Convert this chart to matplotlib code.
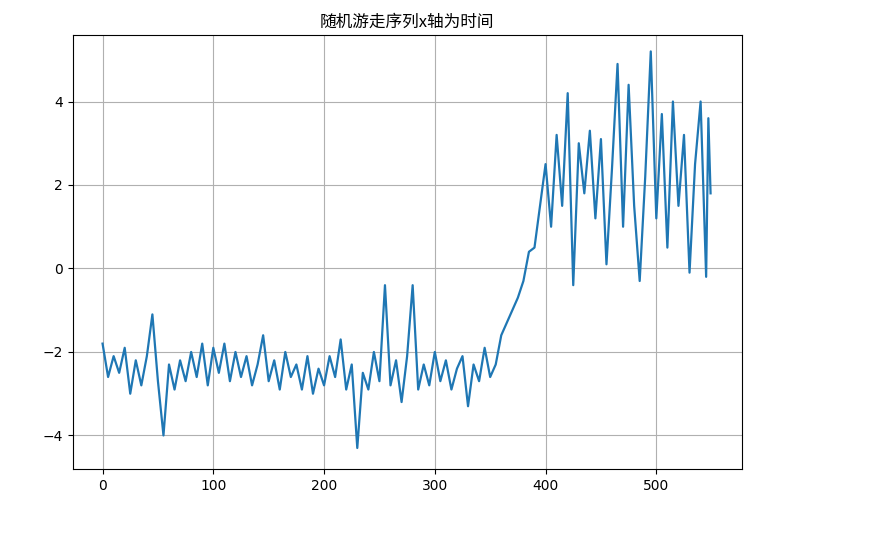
import matplotlib
matplotlib.use("Agg")
import matplotlib.pyplot as plt
import numpy as np

x_low = list(range(0, 360, 5))
y_low = [-1.8, -2.6, -2.1, -2.5, -1.9, -3.0, -2.2, -2.8, -2.1, -1.1,
         -2.7, -4.0, -2.3, -2.9, -2.2, -2.7, -2.0, -2.6, -1.8, -2.8,
         -1.9, -2.5, -1.8, -2.7, -2.0, -2.6, -2.1, -2.8, -2.3, -1.6,
         -2.7, -2.2, -2.9, -2.0, -2.6, -2.3, -2.9, -2.1, -3.0, -2.4,
         -2.8, -2.1, -2.6, -1.7, -2.9, -2.3, -4.3, -2.5, -2.9, -2.0,
         -2.7, -0.4, -2.8, -2.2, -3.2, -2.1, -0.4, -2.9, -2.3, -2.8,
         -2.0, -2.7, -2.2, -2.9, -2.4, -2.1, -3.3, -2.3, -2.7, -1.9,
         -2.6, -2.3]
x_high = list(range(360, 550, 5)) + [547, 549]
y_high = [-1.6, -1.3, -1.0, -0.7, -0.3, 0.4, 0.5, 1.5,
          2.5, 1.0, 3.2, 1.5, 4.2, -0.4, 3.0, 1.8, 3.3, 1.2, 3.1, 0.1,
          2.4, 4.9, 1.0, 4.4, 1.5, -0.3, 2.2, 5.2, 1.2, 3.7, 0.5, 4.0,
          1.5, 3.2, -0.1, 2.5, 4.0, -0.2, 3.6, 1.8]

xs = np.array(x_low + x_high)
ys = np.array(y_low + y_high)

fig = plt.figure(figsize=(8.86, 5.34), dpi=100)
ax = fig.add_axes([0.082, 0.122, 0.755, 0.813])
ax.plot(xs, ys, color="#1f77b4", linewidth=1.6)
ax.set_xlim(-27, 577)
ax.set_ylim(-4.8, 5.6)
ax.set_yticks([-4, -2, 0, 2, 4])
ax.grid(True)
ax.set_title("随机游走序列x轴为时间", family=['Noto Sans CJK SC', 'DejaVu Sans'])
fig.savefig("out.png")
